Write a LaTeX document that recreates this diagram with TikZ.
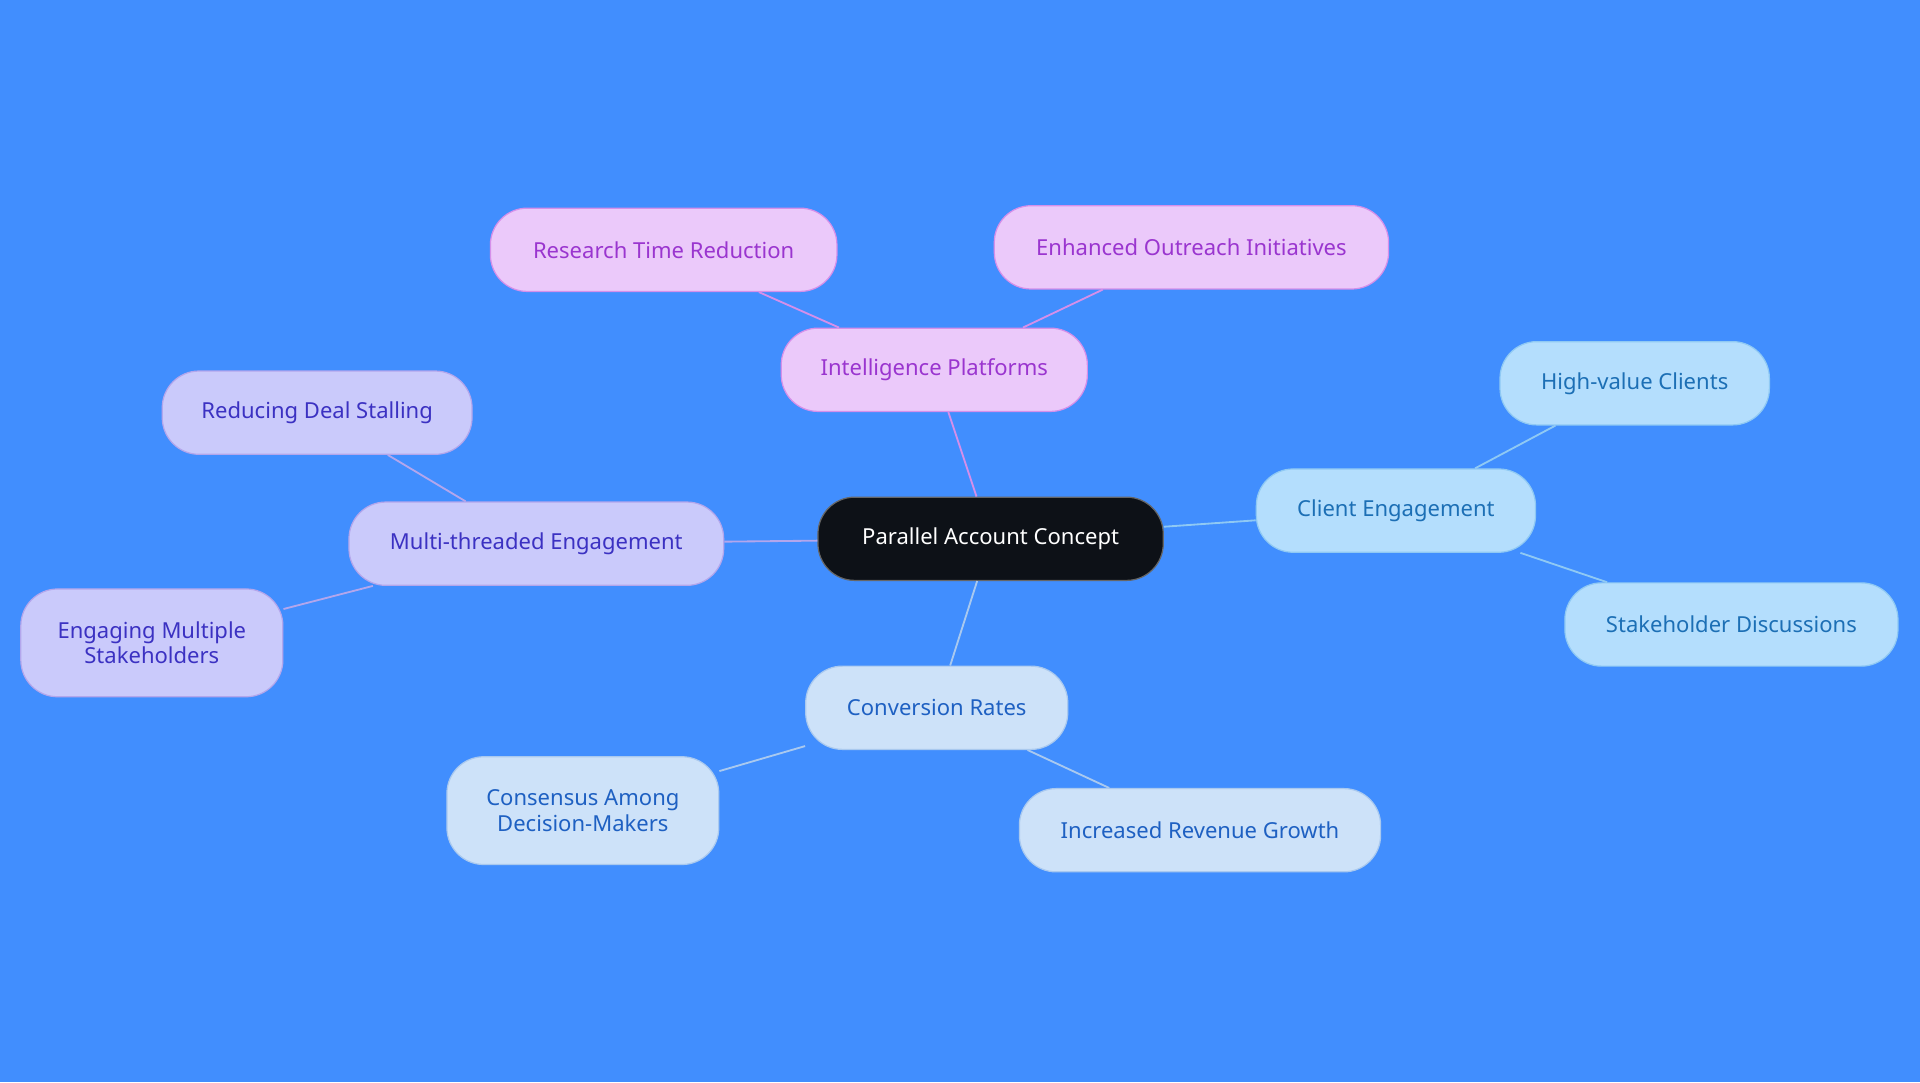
\documentclass[tikz,border=0pt]{standalone}
\usepackage{fontspec}
\setmainfont{Noto Sans}
\definecolor{bg}{HTML}{418EFE}
\definecolor{pk}{HTML}{EBC9FA}\definecolor{pkb}{HTML}{D58FEA}\definecolor{pkt}{HTML}{9A35CF}
\definecolor{cy}{HTML}{B4DEFD}\definecolor{cyb}{HTML}{8FC9F4}\definecolor{cyt}{HTML}{1C6FB5}
\definecolor{lb}{HTML}{CDE2F9}\definecolor{lbb}{HTML}{A9C9EF}\definecolor{lbt}{HTML}{1E60C2}
\definecolor{pu}{HTML}{CACAFB}\definecolor{pub}{HTML}{B3A6EC}\definecolor{put}{HTML}{3B31C2}
\definecolor{dk}{HTML}{0D1117}
\tikzset{
 b/.style={rounded corners=30pt,minimum height=68pt,align=center,font=\fontsize{18}{21}\selectfont,line width=1pt,inner sep=0pt},
 P/.style={b,fill=pk,draw=pkb,text=pkt},
 C/.style={b,fill=cy,draw=cyb,text=cyt},
 L/.style={b,fill=lb,draw=lbb,text=lbt},
 U/.style={b,fill=pu,draw=pub,text=put},
 e/.style={line width=1.5pt}
}
\begin{document}
\begin{tikzpicture}[x=1pt,y=-1pt]
\fill[bg] (0,0) rectangle (1568,884);
\node[b,fill=dk,draw=black!60,text=white,minimum width=282pt] (c) at (809,440) {Parallel Account Concept};
\node[P,minimum width=250pt] (ip) at (763,302) {Intelligence Platforms};
\node[P,minimum width=283pt] (rt) at (542,204) {Research Time Reduction};
\node[P,minimum width=322pt] (eo) at (973,202) {Enhanced Outreach Initiatives};
\node[C,minimum width=228pt] (ce) at (1140,417) {Client Engagement};
\node[C,minimum width=220pt] (hv) at (1335,313) {High-value Clients};
\node[C,minimum width=272pt] (sd) at (1414,510) {Stakeholder Discussions};
\node[L,minimum width=214pt] (cr) at (765,578) {Conversion Rates};
\node[L,minimum width=222pt,minimum height=88pt] (ca) at (476,662) {Consensus Among\\Decision-Makers};
\node[L,minimum width=295pt] (ir) at (980,678) {Increased Revenue Growth};
\node[U,minimum width=306pt] (mt) at (438,444) {Multi-threaded Engagement};
\node[U,minimum width=253pt] (rd) at (259,337) {Reducing Deal Stalling};
\node[U,minimum width=214pt,minimum height=88pt] (em) at (124,525) {Engaging Multiple\\Stakeholders};
\draw[e,pkb] (c) -- (ip); \draw[e,pkb] (ip) -- (rt); \draw[e,pkb] (ip) -- (eo);
\draw[e,cyb] (c) -- (ce); \draw[e,cyb] (ce) -- (hv); \draw[e,cyb] (ce) -- (sd);
\draw[e,lbb] (c) -- (cr); \draw[e,lbb] (cr) -- (ca); \draw[e,lbb] (cr) -- (ir);
\draw[e,pub] (c) -- (mt); \draw[e,pub] (mt) -- (rd); \draw[e,pub] (mt) -- (em);
\end{tikzpicture}
\end{document}
